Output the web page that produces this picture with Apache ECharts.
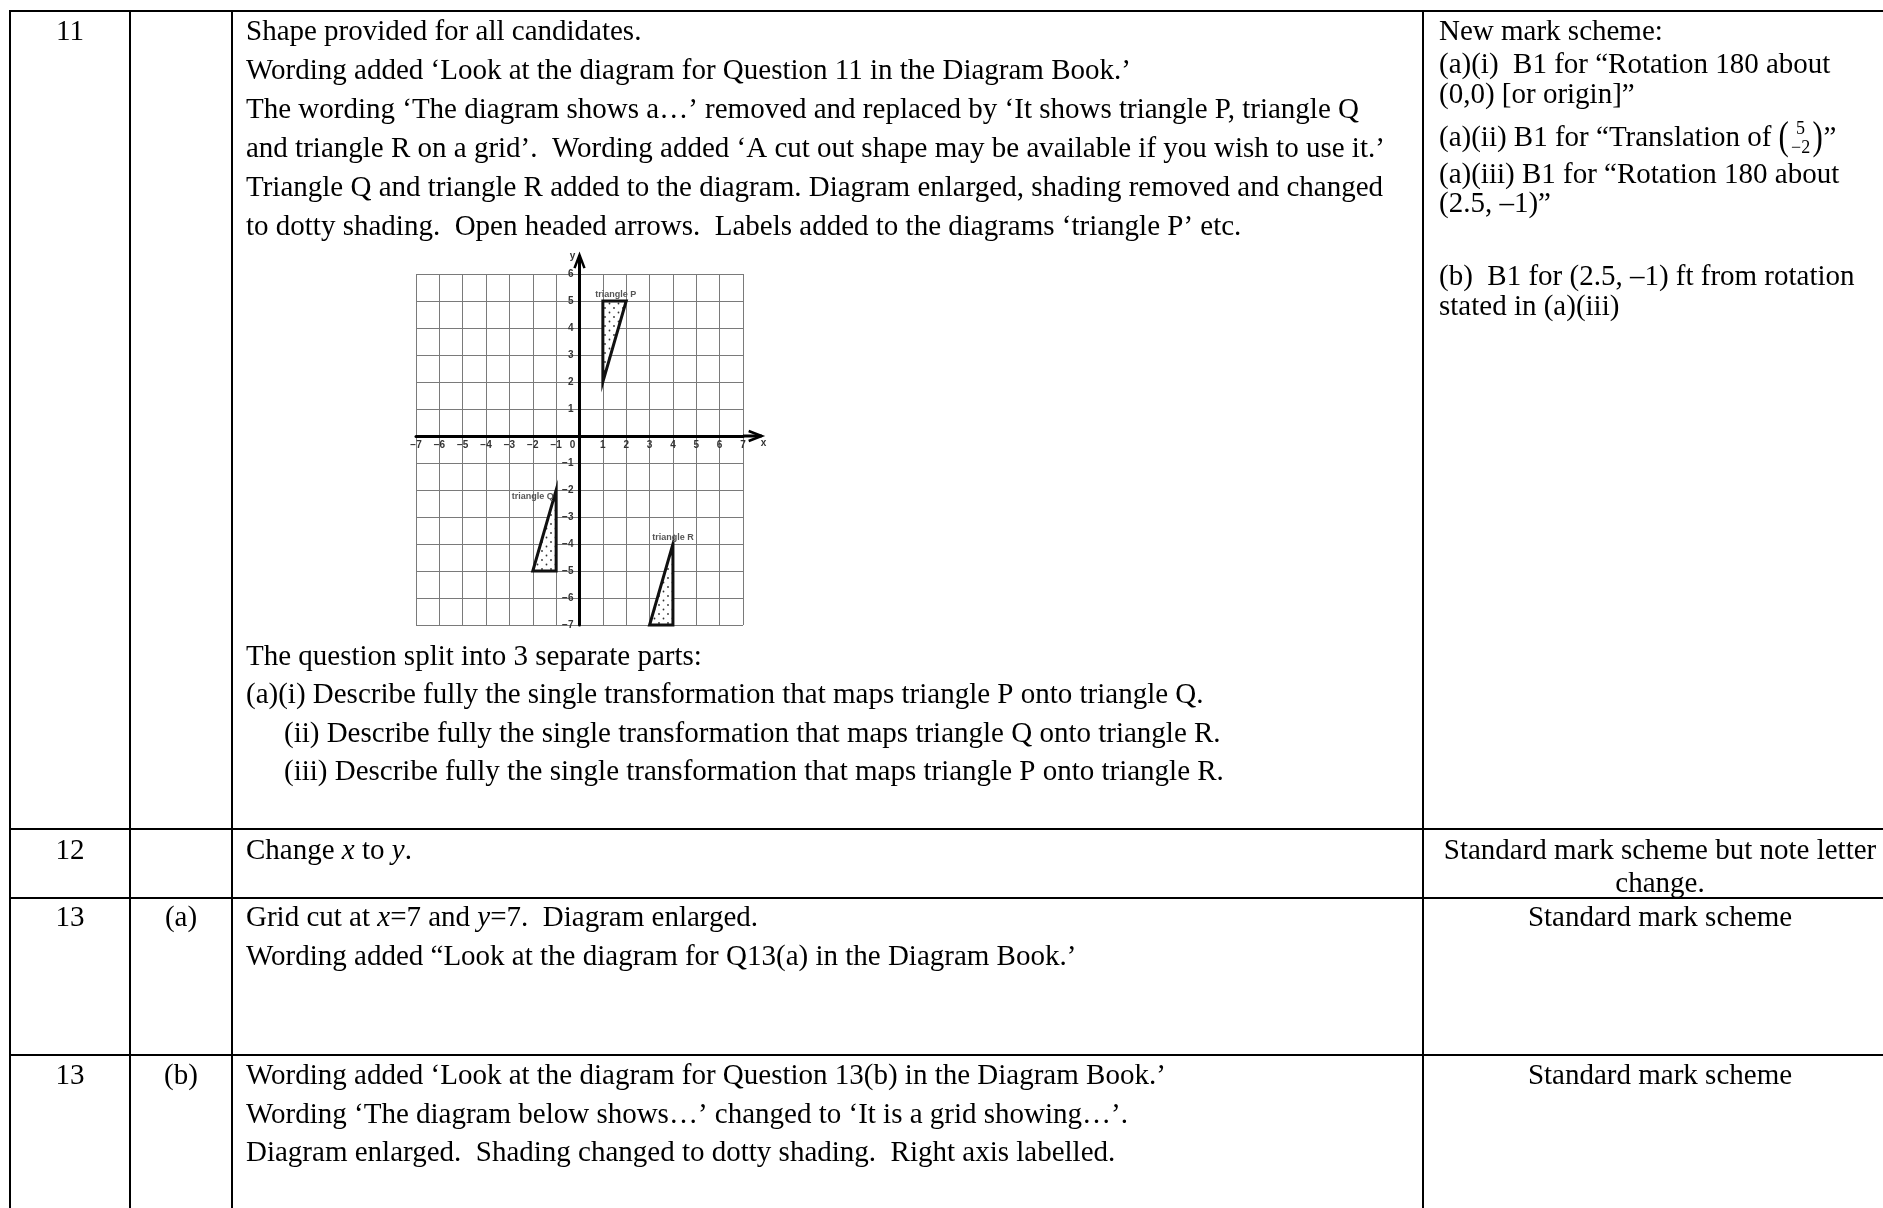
<!DOCTYPE html>
<html>
<head>
<meta charset="UTF-8">
<title>Q11 - Q13 changes</title>
<script src="https://cdn.jsdelivr.net/npm/echarts@6/dist/echarts.min.js"></script>
<style>
    html, body { margin: 0; padding: 0; background: #fff; }
    #main { width: 1883px; height: 1208px; }
</style>
</head>
<body>
<div id="main"></div>
<script type="text/javascript">
    // grid of question 11
    var xTickValues = [-7, -6, -5, -4, -3, -2, -1, 0, 1, 2, 3, 4, 5, 6, 7];
    var xTickLabels = ['\u22127', '\u22126', '\u22125', '\u22124', '\u22123', '\u22122', '\u22121', '0', '1', '2', '3', '4', '5', '6', '7'];
    var yTickValues = [-7, -6, -5, -4, -3, -2, -1, 0, 1, 2, 3, 4, 5, 6];
    var yTickLabels = ['\u22127', '\u22126', '\u22125', '\u22124', '\u22123', '\u22122', '\u22121', '', '1', '2', '3', '4', '5', '6'];

    var triangleP = [[1, 5], [2, 5], [1, 2]];
    var triangleQ = [[-1, -2], [-1, -5], [-2, -5]];
    var triangleR = [[4, -4], [4, -7], [3, -7]];
    var triangleNames = ['triangle P', 'triangle Q', 'triangle R'];
    var labelAnchors = [[1.55, 5.25], [-2.0, -2.25], [4.0, -3.75]];
    var axisTips = [[7.8, 0], [0, 6.7]];
    var axisNames = ['x', 'y'];

    // table text
    var row11Text = [
        'Shape provided for all candidates.',
        'Wording added \u2018Look at the diagram for Question 11 in the Diagram Book.\u2019',
        'The wording \u2018The diagram shows a\u2026\u2019 removed and replaced by \u2018It shows triangle P, triangle Q',
        'and triangle R on a grid\u2019.  Wording added \u2018A cut out shape may be available if you wish to use it.\u2019',
        'Triangle Q and triangle R added to the diagram. Diagram enlarged, shading removed and changed',
        'to dotty shading.  Open headed arrows.  Labels added to the diagrams \u2018triangle P\u2019 etc.'
    ];
    var row11Parts = [
        'The question split into 3 separate parts:',
        '(a)(i) Describe fully the single transformation that maps triangle P onto triangle Q.',
        '(ii) Describe fully the single transformation that maps triangle Q onto triangle R.',
        '(iii) Describe fully the single transformation that maps triangle P onto triangle R.'
    ];
    var row11Scheme = [
        'New mark scheme:',
        '(a)(i)  B1 for \u201cRotation 180 about',
        '(0,0) [or origin]\u201d',
        '(a)(ii) B1 for \u201cTranslation of ',
        '(a)(iii) B1 for \u201cRotation 180 about',
        '(2.5, \u20131)\u201d',
        '(b)  B1 for (2.5, \u20131) ft from rotation',
        'stated in (a)(iii)'
    ];
    var row13aText = [
        'Grid cut at {i|x}=7 and {i|y}=7.  Diagram enlarged.',
        'Wording added \u201cLook at the diagram for Q13(a) in the Diagram Book.\u2019'
    ];
    var row13bText = [
        'Wording added \u2018Look at the diagram for Question 13(b) in the Diagram Book.\u2019',
        'Wording \u2018The diagram below shows\u2026\u2019 changed to \u2018It is a grid showing\u2026\u2019.',
        'Diagram enlarged.  Shading changed to dotty shading.  Right axis labelled.'
    ];

    var SERIF = '"Liberation Serif", "Times New Roman", serif';
    var SANS = '"Liberation Sans", Arial, sans-serif';
    var FS = 29;
    var DY = 2.5;

    var colX = [10, 130, 232, 1423, 1900];
    var rowY = [11, 829, 898, 1055, 1210];

    function txt(x, y, s, align, extra) {
        var st = { text: s, fontSize: FS, fontFamily: SERIF, fill: '#000', align: align || 'left', verticalAlign: 'middle' };
        if (extra) for (var k in extra) st[k] = extra[k];
        return { type: 'text', x: x, y: y + DY, style: st, z: 10 };
    }
    var italicRich = { i: { fontStyle: 'italic', fontSize: FS, fontFamily: SERIF, fill: '#000' } };

    var elements = [];
    // table lines
    for (var i = 0; i < colX.length - 1; i++) {
        elements.push({ type: 'line', shape: { x1: colX[i], y1: rowY[0], x2: colX[i], y2: rowY[rowY.length - 1] }, style: { stroke: '#000', lineWidth: 2 }, z: 10 });
    }
    for (var j = 0; j < rowY.length - 1; j++) {
        elements.push({ type: 'line', shape: { x1: colX[0] - 1, y1: rowY[j], x2: colX[colX.length - 1], y2: rowY[j] }, style: { stroke: '#000', lineWidth: 2 }, z: 10 });
    }

    // question numbers
    elements.push(txt(70, 30, '11', 'center'));
    elements.push(txt(70, 849, '12', 'center'));
    elements.push(txt(70, 916, '13', 'center'));
    elements.push(txt(181, 916, '(a)', 'center'));
    elements.push(txt(70, 1074, '13', 'center'));
    elements.push(txt(181, 1074, '(b)', 'center'));

    // row 11
    row11Text.forEach(function (s, k) { elements.push(txt(246, 30 + k * 38.9, s)); });
    row11Parts.forEach(function (s, k) { elements.push(txt(k < 2 ? 246 : 284, 654.5 + k * 38.5, s)); });
    var schemeY = [30, 62.5, 92.5, 135.7, 173, 201.8, 275, 305];
    row11Scheme.forEach(function (s, k) { elements.push(txt(1439, schemeY[k], s)); });

    // column vector (5, -2)
    var ctx = document.createElement('canvas').getContext('2d');
    ctx.font = FS + 'px ' + SERIF;
    var vx = 1439 + ctx.measureText(row11Scheme[3]).width;
    var vy = schemeY[3];
    elements.push(txt(vx, vy, '(', 'left', { fontSize: 31 }));
    elements[elements.length - 1].scaleY = 1.3;
    elements.push(txt(vx + 22, vy - 9, '5', 'center', { fontSize: 18 }));
    elements.push(txt(vx + 22, vy + 10, '\u22122', 'center', { fontSize: 18 }));
    elements.push(txt(vx + 34, vy, ')', 'left', { fontSize: 31 }));
    elements[elements.length - 1].scaleY = 1.3;
    elements.push(txt(vx + 45, vy, '\u201d'));

    // row 12
    elements.push(txt(246, 849, 'Change {i|x} to {i|y}.', 'left', { rich: italicRich }));
    elements.push(txt(1660, 849, 'Standard mark scheme but note letter', 'center'));
    elements.push(txt(1660, 881.5, 'change.', 'center'));

    // row 13 (a)
    row13aText.forEach(function (s, k) { elements.push(txt(246, 916 + k * 39, s, 'left', { rich: italicRich })); });
    elements.push(txt(1660, 916, 'Standard mark scheme', 'center'));

    // row 13 (b)
    row13bText.forEach(function (s, k) { elements.push(txt(246, 1074 + k * 38.5, s)); });
    elements.push(txt(1660, 1074, 'Standard mark scheme', 'center'));

    // dotty shading
    function dotPattern() {
        var c = document.createElement('canvas');
        c.width = 9; c.height = 9;
        var g = c.getContext('2d');
        g.fillStyle = '#fff';
        g.fillRect(0, 0, 9, 9);
        g.fillStyle = '#333';
        g.beginPath(); g.arc(2, 2, 0.9, 0, Math.PI * 2); g.fill();
        g.beginPath(); g.arc(6.5, 6.5, 0.9, 0, Math.PI * 2); g.fill();
        return c;
    }
    var pattern = { image: dotPattern(), repeat: 'repeat' };

    function flat(tri) { return [tri[0][0], tri[0][1], tri[1][0], tri[1][1], tri[2][0], tri[2][1]]; }

    function triangleSeries(tri, idx) {
        return {
            type: 'custom',
            name: triangleNames[idx],
            coordinateSystem: 'cartesian2d',
            clip: false,
            z: 5,
            encode: { x: [0, 2, 4], y: [1, 3, 5] },
            data: [flat(tri)],
            renderItem: function (params, api) {
                var pts = [];
                for (var k = 0; k < 3; k++) pts.push(api.coord([api.value(2 * k), api.value(2 * k + 1)]));
                var lp = api.coord(labelAnchors[idx]);
                return {
                    type: 'group',
                    children: [
                        { type: 'polygon', shape: { points: pts }, style: { fill: pattern, stroke: '#111', lineWidth: 3, lineJoin: 'miter' } },
                        { type: 'text', x: lp[0], y: lp[1], style: { text: triangleNames[idx], fontSize: 9, fontFamily: SANS, fontWeight: 'bold', fill: '#555', align: 'center', verticalAlign: 'middle' } }
                    ]
                };
            }
        };
    }

    // grid box and axis ranges; the axes are moved onto x=0 / y=0
    var gridBox = { left: 416, top: 274, width: 327, height: 351 };
    var xMin = -7, xMax = 7, yMin = -7, yMax = 6;
    var yAxisShift = -gridBox.width * (0 - xMin) / (xMax - xMin);
    var xAxisShift = -gridBox.height * (0 - yMin) / (yMax - yMin);

    var myChart = echarts.init(document.getElementById('main'), null, { renderer: 'canvas' });

    var option = {
        animation: false,
        backgroundColor: '#fff',
        grid: { left: gridBox.left, top: gridBox.top, width: gridBox.width, height: gridBox.height, containLabel: false },
        xAxis: {
            type: 'value', min: xMin, max: xMax, interval: 1,
            position: 'bottom', offset: xAxisShift,
            axisLine: { onZero: false, lineStyle: { color: '#000', width: 3 } },
            axisTick: { show: false },
            splitLine: { show: true, lineStyle: { color: '#7a7a7a', width: 1 } },
            axisLabel: {
                margin: 4, fontSize: 10, fontWeight: 'bold', color: '#333', fontFamily: SANS,
                formatter: function (v) {
                    var k = xTickValues.indexOf(v);
                    if (k < 0) return '';
                    return v === 0 ? '{z|' + xTickLabels[k] + '}' : xTickLabels[k];
                },
                rich: { z: { padding: [0, 14, 0, 0], fontSize: 10, fontWeight: 'bold', color: '#333', fontFamily: SANS } }
            }
        },
        yAxis: {
            type: 'value', min: yMin, max: yMax, interval: 1,
            position: 'left', offset: yAxisShift,
            axisLine: { onZero: false, lineStyle: { color: '#000', width: 3 } },
            axisTick: { show: false },
            splitLine: { show: true, lineStyle: { color: '#7a7a7a', width: 1 } },
            axisLabel: {
                margin: 6, fontSize: 10, fontWeight: 'bold', color: '#333', fontFamily: SANS,
                formatter: function (v) {
                    var k = yTickValues.indexOf(v);
                    return k < 0 ? '' : yTickLabels[k];
                }
            }
        },
        series: [
            triangleSeries(triangleP, 0),
            triangleSeries(triangleQ, 1),
            triangleSeries(triangleR, 2),
            {
                // axis extensions with open arrow heads and axis letters
                type: 'custom',
                coordinateSystem: 'cartesian2d',
                clip: false,
                z: 4,
                data: axisTips,
                renderItem: function (params, api) {
                    var isX = params.dataIndex === 0;
                    var tip = api.coord([api.value(0), api.value(1)]);
                    var base = api.coord(isX ? [xMax, 0] : [0, yMax]);
                    var dx = tip[0] - base[0], dy = tip[1] - base[1];
                    var len = Math.sqrt(dx * dx + dy * dy);
                    dx /= len; dy /= len;
                    var h = 13, w = 5;
                    var p1 = [tip[0] - dx * h - dy * w, tip[1] - dy * h + dx * w];
                    var p2 = [tip[0] - dx * h + dy * w, tip[1] - dy * h - dx * w];
                    return {
                        type: 'group',
                        children: [
                            { type: 'line', shape: { x1: base[0], y1: base[1], x2: tip[0], y2: tip[1] }, style: { stroke: '#000', lineWidth: 3 } },
                            { type: 'polyline', shape: { points: [p1, tip, p2] }, style: { stroke: '#000', lineWidth: 2.5, fill: null } },
                            {
                                type: 'text',
                                x: isX ? tip[0] - 1 : tip[0] - 7,
                                y: isX ? tip[1] + 7 : tip[1] + 1,
                                style: { text: axisNames[params.dataIndex], fontSize: 10, fontWeight: 'bold', fontFamily: SANS, fill: '#333', align: isX ? 'left' : 'center', verticalAlign: 'middle' }
                            }
                        ]
                    };
                }
            }
        ],
        graphic: { elements: elements }
    };

    myChart.setOption(option);
</script>
</body>
</html>
